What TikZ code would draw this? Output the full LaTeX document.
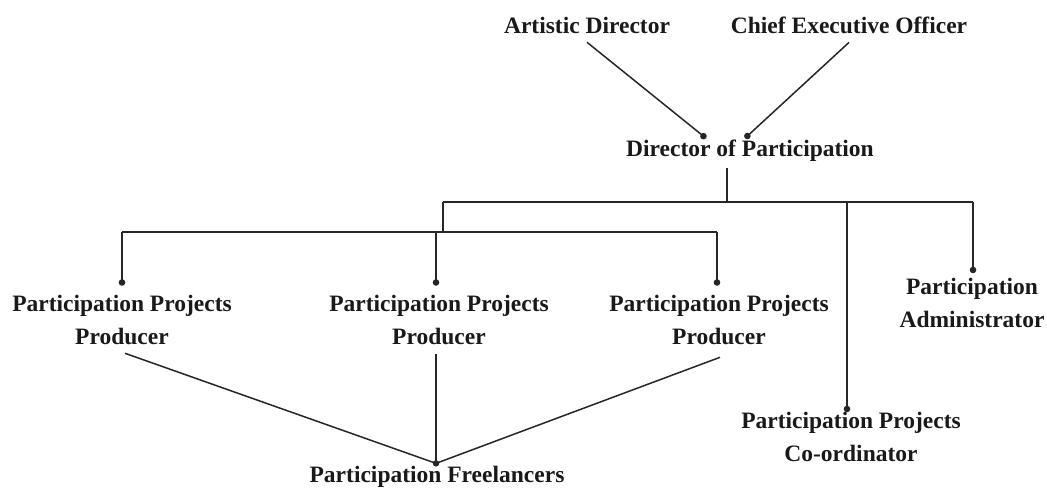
\documentclass[tikz,border=0pt]{standalone}
\usepackage{fontspec}
\setmainfont{Liberation Serif}
\usetikzlibrary{calc,arrows.meta}
\begin{document}
\begin{tikzpicture}[x=1pt,y=-1pt,
  lbl/.style={font=\fontsize{23.5}{33}\selectfont\bfseries, align=center, inner sep=0pt, outer sep=0pt, text=black!90},
  link/.style={draw=black!85, line width=1.5pt},
  dotend/.style={-{Circle[length=6.5pt]}},
  joint/.style={circle, fill=black!85, inner sep=0pt, minimum size=6.5pt},
]
\useasboundingbox (0,0) rectangle (1047,490);

% nodes
\node[lbl] (ad)    at (587,25)    {Artistic Director};
\node[lbl] (ceo)   at (849,25)    {Chief Executive Officer};
\node[lbl] (dir)   at (750,151)   {Director of Participation};
\node[lbl] (p1)    at (122,319.5) {Participation Projects\\Producer};
\node[lbl] (p2)    at (439,319.5) {Participation Projects\\Producer};
\node[lbl] (p3)    at (719,319.5) {Participation Projects\\Producer};
\node[lbl] (adm)   at (972,303)   {Participation\\Administrator};
\node[lbl] (coord) at (851,437)   {Participation Projects\\Co-ordinator};
\node[lbl] (free)  at (437,477)   {Participation Freelancers};

% connection points
\coordinate (adout)   at ($(ad.south)+(0,9)$);
\coordinate (ceoout)  at ($(ceo.south)+(0,9)$);
\coordinate (dirin1)  at ($(dir.north)+(-44,-2)$);
\coordinate (dirin2)  at ($(dir.north)+(-5,-2)$);
\coordinate (dirout)  at ($(dir.south)+(-23,6)$);
\coordinate (j0) at (727,202);
\coordinate (jL) at (443,202);
\coordinate (jC) at (847,202);
\coordinate (jR) at (973,202);
\coordinate (k0) at (443,232);
\coordinate (k1) at (122,232);
\coordinate (k2) at (436,232);
\coordinate (k3) at (717,232);
\coordinate (p1in)    at ($(p1.north)+(0,-9)$);
\coordinate (p2in)    at ($(p2.north)+(-3,-9)$);
\coordinate (p3in)    at ($(p3.north)+(-2,-9)$);
\coordinate (admin)   at ($(adm.north)+(1,-5)$);
\coordinate (coordin) at ($(coord.north)+(-4,0)$);
\coordinate (p1out)   at ($(p1.south)+(3,9)$);
\coordinate (p2out)   at ($(p2.south)+(-3,10)$);
\coordinate (p3out)   at ($(p3.south)+(1,13)$);
\coordinate (freein)  at ($(free.north)+(-1,-3)$);

% connectors
\draw[link,dotend] (adout) -- (dirin1);
\draw[link,dotend] (ceoout) -- (dirin2);
\draw[link] (dirout) -- (j0);
\draw[link] (jL) -- (jR);
\draw[link] (jL) -- (k0);
\draw[link] (k1) -- (k3);
\draw[link,dotend] (k1) -- (p1in);
\draw[link,dotend] (k2) -- (p2in);
\draw[link,dotend] (k3) -- (p3in);
\draw[link,dotend] (jC) -- (coordin);
\draw[link,dotend] (jR) -- (admin);
\draw[link] (p1out) -- (freein);
\draw[link] (p2out) -- (freein);
\draw[link] (p3out) -- (freein);
\node[joint] (fdot) at (freein) {};
\end{tikzpicture}
\end{document}
